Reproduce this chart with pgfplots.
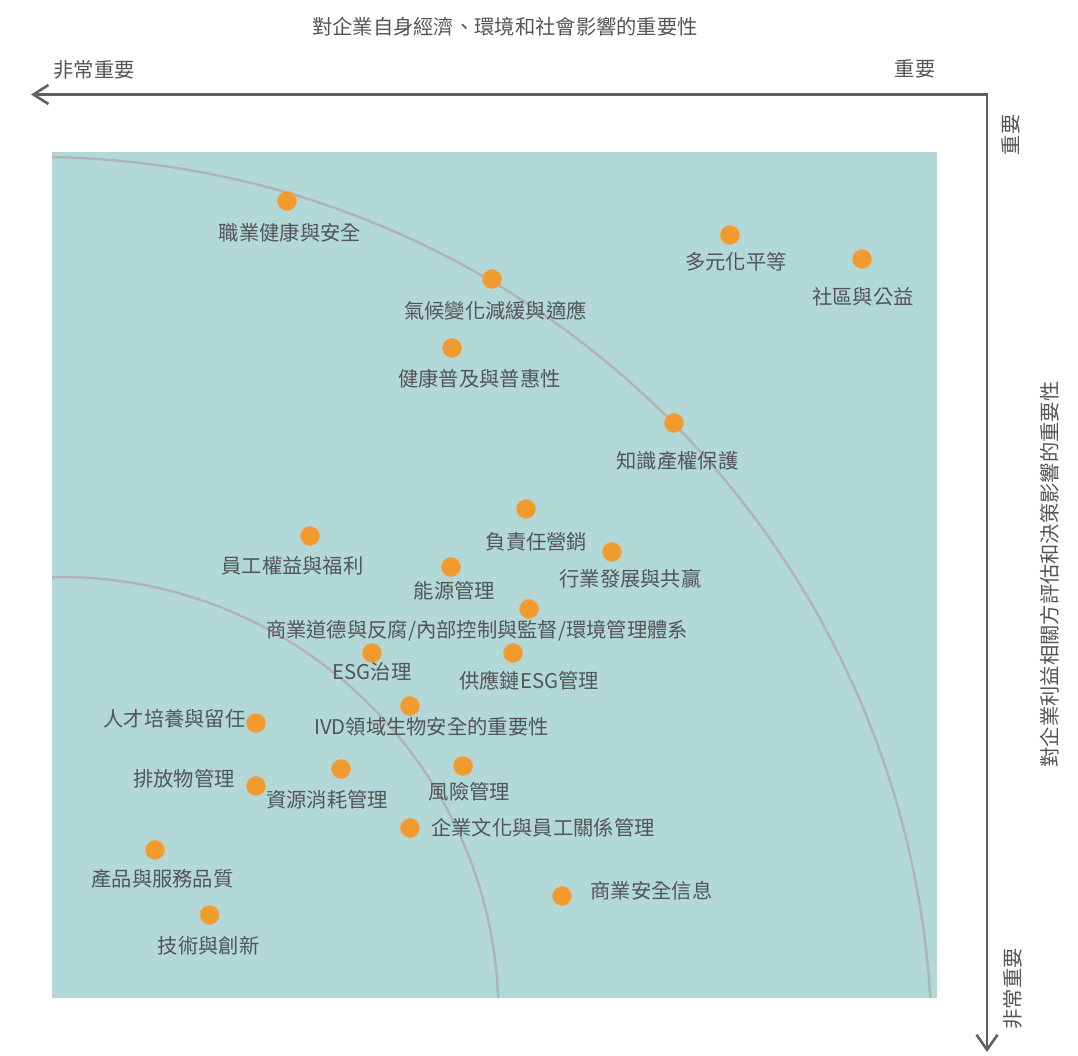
\documentclass[border=0pt]{standalone}
\usepackage{pgfplots}
\pgfplotsset{compat=1.18}
\usepackage{fontspec}
\setmainfont{Noto Sans CJK TC}
\usetikzlibrary{arrows.meta}
\definecolor{panel}{RGB}{178,216,216}
\definecolor{arcgray}{RGB}{176,180,180}
\definecolor{txt}{RGB}{84,84,84}
\definecolor{dotc}{RGB}{241,154,46}
\definecolor{dotedge}{RGB}{236,168,90}
\definecolor{axc}{RGB}{96,96,96}
\pgfplotstableread{
x y lx ly label
235 797 3 -32 職業健康與安全
678 763 6 -27 多元化平等
810 739 1 -38 社區與公益
440 719 3.5 -32 氣候變化減緩與適應
400 650 27.5 -30.5 健康普及與普惠性
622 575 3.5 -38 知識產權保護
474 489 10.5 -33 負責任營銷
258 462 -17.5 -30 員工權益與福利
560 446 18.5 -27 行業發展與共贏
399 431 3.5 -24 能源管理
477 389 -52 -22 商業道德與反腐/內部控制與監督/環境管理體系
320 345 0 -19 ESG治理
461 345 16 -28 供應鏈ESG管理
204 275 -81.5 4.5 人才培養與留任
358 292 21.5 -21 IVD領域生物安全的重要性
204 212 -72 7.5 排放物管理
289 229 -14 -30.5 資源消耗管理
411 232 6.5 -26 風險管理
358 170 133 0 企業文化與員工關係管理
103 148 7.5 -28.5 產品與服務品質
510 102 89.5 5 商業安全信息
157.6 83 -1 -30.5 技術與創新
}\materiality
\begin{document}
\begin{tikzpicture}[x=1pt,y=1pt]
\path[use as bounding box] (0,0) rectangle (1078,1056);
\fill[panel] (52,58) rectangle (937,904);
\begin{scope}
\clip (52,58) rectangle (937,904);
\draw[arcgray, line width=2.4pt] (60.5,41) circle[radius=438pt];
\draw[arcgray, line width=2.4pt] (36,3) circle[radius=896pt];
\end{scope}
\begin{axis}[
  at={(52pt,58pt)}, anchor=origin,
  width=885pt, height=846pt, scale only axis,
  xmin=0, xmax=885, ymin=0, ymax=846,
  hide axis, clip=false,
]
\addplot[only marks, mark=*, mark size=9.5pt,
  mark options={fill=dotc, draw=dotedge, line width=0.8pt},
  nodes near coords, point meta=explicit symbolic,
  visualization depends on={\thisrow{lx} \as \lx},
  visualization depends on={\thisrow{ly} \as \ly},
  every node near coord/.append style={anchor=center, xshift=\lx pt, yshift=\ly pt,
    font=\fontsize{20.3pt}{24pt}\selectfont, text=txt, inner sep=0pt},
] table[x=x, y=y, meta=label] {\materiality};
\end{axis}
\draw[axc, line width=2.6pt, line join=miter,
  {Straight Barb[length=15pt,width=19pt]}-{Straight Barb[length=15pt,width=21pt]}]
  (31,961.5) -- (987,961.5) -- (987,4);
\begin{scope}[every node/.style={text=txt, font=\fontsize{20.3pt}{24pt}\selectfont, inner sep=0pt}]
\node at (505,1029) {對企業自身經濟、環境和社會影響的重要性};
\node at (94,986) {非常重要};
\node at (915,987) {重要};
\node[rotate=90] at (1011,921) {重要};
\node[rotate=90] at (1013,67) {非常重要};
\node[rotate=90] at (1050,481.5) {對企業利益相關方評估和決策影響的重要性};
\end{scope}
\end{tikzpicture}
\end{document}
